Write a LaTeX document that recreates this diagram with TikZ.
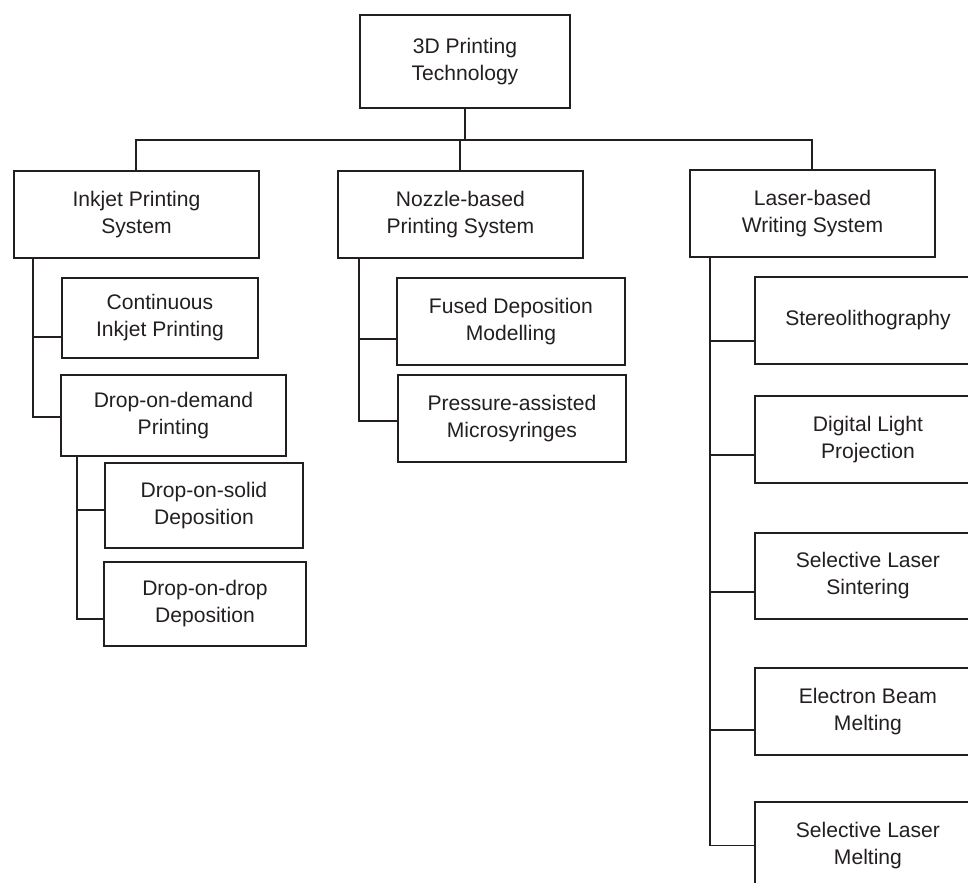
\documentclass[tikz,border=0pt]{standalone}
\usepackage{fontspec}
\setmainfont{Liberation Sans}
\usepackage{xcolor}
\usepackage{tikz}
\usetikzlibrary{positioning}
\definecolor{inkgray}{RGB}{35,31,32}

\begin{document}
\begin{tikzpicture}[x=0.02cm, y=-0.02cm,
      box/.style={draw=inkgray, line width=1.1pt, anchor=north west, align=center,
                  text=inkgray, font=\fontsize{12}{15.3}\selectfont, inner sep=0pt},
      sysbox/.style={box, minimum width=4.9cm, minimum height=1.74cm},
      link/.style={draw=inkgray, line width=1.1pt}]
    \clip (0,0) rectangle (968,883);
    % top level
    \node[box, minimum width=4.2cm, minimum height=1.86cm] (root) at (359,14) {3D Printing\\Technology};
    \coordinate (bus) at (0,140);
    \node[sysbox] (inkjet) at (13,170) {Inkjet Printing\\System};
    \node[sysbox] (nozzle) at (337,170) {Nozzle-based\\Printing System};
    \node[sysbox] (laser) at (689,169) {Laser-based\\Writing System};
    \draw[link] (root.south) -- (root.south |- bus);
    \draw[link] (inkjet.north) |- (laser.north |- bus) -- (laser.north);
    \draw[link] (nozzle.north |- bus) -- (nozzle.north);
    % inkjet branch
    \node[box, minimum width=3.92cm, minimum height=1.6cm] (cont) at (61,277) {Continuous\\Inkjet Printing};
    \node[box, minimum width=4.5cm, minimum height=1.62cm] (dod) at (60,374) {Drop-on-demand\\Printing};
    \node[box, minimum width=3.96cm, minimum height=1.7cm] (dosolid) at (104,462) {Drop-on-solid\\Deposition};
    \node[box, minimum width=4.04cm, minimum height=1.68cm] (dodrop) at (103,561) {Drop-on-drop\\Deposition};
    \draw[link] ([xshift=0.4cm]inkjet.south west) |- ([yshift=-0.38cm]cont.west);
    \draw[link] ([xshift=0.4cm]inkjet.south west) |- ([yshift=-0.03cm]dod.west);
    \draw[link] ([xshift=0.34cm]dod.south west) |- ([yshift=-0.09cm]dosolid.west);
    \draw[link] ([xshift=0.34cm]dod.south west) |- ([yshift=-0.3cm]dodrop.west);
    % nozzle branch
    \node[box, minimum width=4.56cm, minimum height=1.74cm] (fused) at (396,277) {Fused Deposition\\Modelling};
    \node[box, minimum width=4.56cm, minimum height=1.74cm] (pam) at (397,374) {Pressure-assisted\\Microsyringes};
    \draw[link] ([xshift=0.44cm]nozzle.south west) |- ([yshift=-0.35cm]fused.west);
    \draw[link] ([xshift=0.44cm]nozzle.south west) |- ([yshift=-0.05cm]pam.west);
    % laser branch
    \node[box, minimum width=4.52cm, minimum height=1.74cm] (sla) at (754,276) {Stereolithography};
    \node[box, minimum width=4.52cm, minimum height=1.74cm] (dlp) at (754,395) {Digital Light\\Projection};
    \node[box, minimum width=4.52cm, minimum height=1.72cm] (sls) at (754,532) {Selective Laser\\Sintering};
    \node[box, minimum width=4.52cm, minimum height=1.74cm] (ebm) at (754,667) {Electron Beam\\Melting};
    \node[box, minimum width=4.52cm, minimum height=1.74cm] (slm) at (754,801) {Selective Laser\\Melting};
    \draw[link] ([xshift=0.42cm]laser.south west) |- ([yshift=-0.41cm]sla.west);
    \draw[link] ([xshift=0.42cm]laser.south west) |- ([yshift=-0.31cm]dlp.west);
    \draw[link] ([xshift=0.42cm]laser.south west) |- ([yshift=-0.32cm]sls.west);
    \draw[link] ([xshift=0.42cm]laser.south west) |- ([yshift=-0.37cm]ebm.west);
    \draw[link] ([xshift=0.42cm]laser.south west) |- (slm.west);
  \end{tikzpicture}
\end{document}
